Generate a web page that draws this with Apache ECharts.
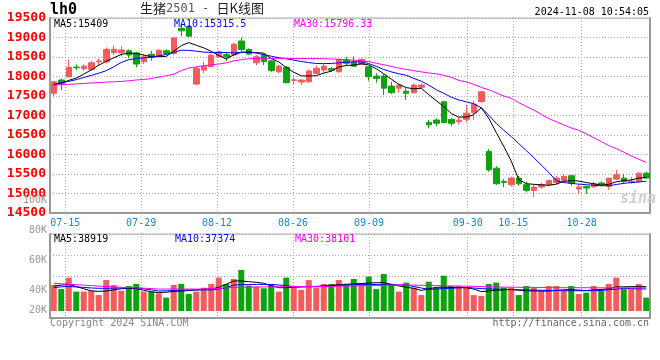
<!DOCTYPE html>
<html><head><meta charset="utf-8">
<script src="https://cdn.jsdelivr.net/npm/echarts@6/dist/echarts.min.js"></script>
<style>html,body{margin:0;padding:0;background:#fff}#c{width:660px;height:360px}</style>
</head><body><div id="c"></div>
<script>
const dates = ['07-11','07-12','07-15','07-16','07-17','07-18','07-19','07-22','07-23','07-24','07-25','07-26','07-29','07-30','07-31',
'08-01','08-02','08-05','08-06','08-07','08-08','08-09','08-12','08-13','08-14','08-15','08-16','08-19','08-20','08-21','08-22','08-23','08-26','08-27','08-28','08-29','08-30',
'09-02','09-03','09-04','09-05','09-06','09-09','09-10','09-11','09-12','09-13','09-18','09-19','09-20','09-23','09-24','09-25','09-26','09-27','09-30',
'10-08','10-09','10-10','10-11','10-14','10-15','10-16','10-17','10-18','10-21','10-22','10-23','10-24','10-25','10-28','10-29','10-30','10-31',
'11-01','11-04','11-05','11-06','11-07','11-08'];
const tickDates = ['07-15','07-29','08-12','08-26','09-09','09-30','10-15','10-28'];

const openP = [17570,17910,17990,18240,18200,18180,18380,18380,18610,18610,
18660,18605,18380,18570,18520,18660,18590,19230,19275,17805,
18165,18250,18505,18560,18550,18910,18690,18350,18545,18400,
18120,18230,17900,17860,17865,18080,18165,18200,18120,18420,
18375,18310,18250,18010,18010,17755,17700,17625,17585,17725,
16820,16885,17350,16900,16845,16900,17070,17355,16075,15650,
15310,15225,15395,15225,15080,15165,15225,15280,15335,15455,
15115,15180,15170,15270,15180,15370,15395,15290,15310,15520];
const closeP = [17865,17825,18235,18225,18265,18350,18400,18695,18700,18680,
18550,18320,18505,18490,18675,18590,18990,19170,19035,18210,
18265,18548,18630,18505,18830,18695,18575,18505,18380,18150,
18265,17840,17915,17910,18140,18210,18265,18160,18440,18340,
18265,18440,17995,17950,17700,17585,17780,17570,17780,17780,
16760,16800,16820,16800,16880,17060,17290,17610,15605,15250,
15285,15395,15250,15080,15165,15225,15335,15395,15435,15265,
15165,15140,15250,15230,15395,15480,15310,15320,15520,15400];
const lowP = [17500,17650,17990,18165,18147,18147,18290,18335,18548,18522,
18463,18233,18318,18402,18505,18548,18548,19033,19016,17780,
18080,18250,18480,18400,18520,18630,18550,18290,18290,18120,
18080,17840,17800,17780,17840,18050,18100,18120,18100,18290,
18250,18290,17890,17840,17525,17550,17585,17400,17560,17700,
16670,16720,16800,16740,16770,16830,16890,17340,15560,15220,
15165,15180,15200,15030,14910,15120,15200,15230,15300,15200,
14990,14990,15140,15180,15096,15350,15249,15250,15290,15380];
const highP = [17890,17950,18440,18310,18310,18400,18460,18745,18800,18778,
18694,18633,18573,18658,18694,18694,18990,19358,19315,18250,
18377,18591,18660,18610,18860,19000,18720,18550,18590,18430,
18300,18270,18010,17930,18180,18280,18330,18240,18450,18505,
18520,18460,18260,18080,18060,17865,17810,17720,17820,17820,
16890,16930,17380,16930,16950,17270,17380,17610,16140,15700,
15370,15430,15450,15300,15220,15280,15350,15450,15500,15480,
15240,15200,15300,15310,15400,15607,15505,15420,15540,15560];

const ma5 = [17780,17830,17900,17960,18060,18170,18290,18390,18480,18565,
18600,18590,18550,18510,18508,18516,18650,18790,18870,18800,
18734,18646,18538,18450,18556,18620,18620,18615,18597,18461,
18375,18228,18110,18016,18014,18020,18088,18137,18243,18283,
18294,18329,18296,18198,18070,17934,17802,17717,17683,17699,
17534,17380,17230,17050,16960,16960,17020,17200,16930,16563,
16208,15829,15357,15252,15235,15223,15211,15240,15311,15331,
15319,15280,15251,15210,15236,15299,15333,15347,15395,15409];
const ma10 = [17806,17840,17875,17920,17975,18030,18085,18150,18250,18360,
18430,18460,18480,18500,18530,18565,18620,18675,18670,18650,
18625,18617,18617,18615,18605,18620,18630,18600,18560,18520,
18480,18455,18420,18385,18355,18335,18330,18335,18350,18365,
18377,18377,18330,18260,18180,18120,18070,18030,17950,17880,
17780,17660,17570,17470,17400,17350,17300,17200,17010,16800,
16620,16460,16280,16100,15920,15730,15540,15330,15282,15260,
15240,15225,15212,15200,15200,15230,15260,15280,15295,15315.5];
const ma30 = [17780,17790,17800,17810,17820,17835,17845,17855,17865,17875,
17890,17910,17925,17945,17985,18020,18060,18150,18220,18245,
18280,18300,18320,18350,18400,18430,18455,18465,18465,18465,
18465,18465,18460,18460,18460,18460,18455,18450,18440,18430,
18420,18400,18380,18340,18300,18260,18215,18180,18150,18120,
18090,18070,18030,17980,17900,17860,17800,17720,17660,17580,
17500,17440,17330,17230,17140,17030,16920,16840,16760,16680,
16620,16530,16430,16330,16230,16150,16060,15960,15880,15796.33];

const volume = [40000,37300,44900,35600,35600,36200,33300,43300,40000,36200,
39300,40700,35600,35600,34400,31500,40000,40700,34000,35600,
38200,40700,44900,40700,44000,50000,39600,38900,37800,40000,
35600,44900,39300,36700,43300,38200,40700,40700,43300,40700,
44000,40700,45600,37300,47300,40700,35600,41600,38200,33300,
42200,38200,46200,39300,39300,38200,33300,32700,40700,41600,
38200,38200,33300,39300,38200,36200,39300,39300,36200,39300,
34000,34900,39300,36200,40700,44900,37300,37300,40700,31500];
const volMa5 = [39300,39900,40400,39000,37500,36100,35800,36000,36800,37500,
37800,37500,36500,35500,34900,35200,35700,36000,36300,36700,
37200,37300,38500,40500,42700,42700,42200,41800,41100,39500,
38200,38200,38500,38700,38900,38900,39300,39800,40200,40500,
40700,41000,41300,41500,41600,40500,39400,38500,37800,36400,
37500,38400,38600,38300,38200,38200,37300,35600,36000,36500,
36800,37000,36500,36200,36000,36000,36000,36400,36800,36900,
36600,36300,36700,37000,37500,38700,38800,38900,38900,38919];
const volMa10 = [38200,38800,39000,38700,38400,38000,37800,37800,37900,38000,
38100,38200,37500,36800,36000,36100,36300,36600,36700,36700,
36700,36700,37300,38200,40000,40200,40300,40400,40400,40400,
40000,39600,38900,38900,39000,39100,39300,39500,39800,40000,
40200,40400,40400,40300,40200,40100,40000,40000,39000,38000,
37100,37300,37600,37900,38200,38400,38000,37600,37300,37300,
37100,37000,36800,36700,36600,36500,36400,36300,36200,36200,
36200,36200,36200,36400,36800,37200,37800,37600,37400,37374];
const volMa30 = [41100,40800,40500,40200,39900,39600,39300,39000,38700,38500,
38300,38100,37900,37600,37300,37300,37300,37300,37300,37300,
37300,37500,37800,38100,38400,38500,38600,38700,38700,38800,
38800,38900,38900,38900,38900,38900,38900,39000,39200,39300,
39400,39500,39600,39700,39800,39900,40000,40000,39900,39800,
39700,39600,39500,39400,39300,39200,39100,39000,38800,38700,
38600,38500,38500,38400,38400,38300,38300,38200,38200,38200,
38200,38200,38100,38100,38100,38100,38100,38100,38100,38101];

const priceMin = 14500, priceMax = 19500, priceStep = 500;
const volTickMin = 20000, volTickMax = 100000, volTickStep = 20000;
const volBarMin = 22667, volBarMax = 74000;

const legendMain = ['MA5:15409', 'MA10:15315.5', 'MA30:15796.33'];
const legendVol = ['MA5:38919', 'MA10:37374', 'MA30:38101'];
const titleCode = 'lh0';
const timeText = '2024-11-08 10:54:05';

const RED = '#f65b5b', GREEN = '#0ca40c';
const MONO = '"DejaVu Sans Mono", monospace';
const gridLine = {show: true, lineStyle: {color: '#aaa', width: 1, type: [1, 2]}};
const frameLine = {show: true, lineStyle: {color: '#999', width: 2}};
const isTick = (idx, val) => tickDates.indexOf(val) >= 0;

const candleData = dates.map((d, i) => [openP[i], closeP[i], lowP[i], highP[i]]);
const volData = dates.map((d, i) => ({value: volume[i], itemStyle: {color: closeP[i] >= openP[i] ? RED : GREEN}}));

const chart = echarts.init(document.getElementById('c'));
chart.setOption({
  animation: false,
  backgroundColor: '#fff',
  grid: [
    {left: 50, right: 10, top: 18, height: 195, show: true, borderColor: '#aaa', borderWidth: 1},
    {left: 50, right: 10, top: 234, height: 84, show: true, borderColor: '#aaa', borderWidth: 1},
    {left: 50, right: 10, top: 234, height: 77},
    {left: 50, right: 10, top: 195, height: 120}
  ],
  xAxis: [
    {type: 'category', gridIndex: 0, data: dates, boundaryGap: true, show: false},
    {type: 'category', gridIndex: 0, data: dates, boundaryGap: false, position: 'bottom',
      axisLine: frameLine, axisTick: {show: false},
      axisLabel: {interval: isTick, color: '#1089dc', fontFamily: MONO, fontSize: 10, margin: 5},
      splitLine: Object.assign({interval: isTick}, gridLine)},
    {type: 'category', gridIndex: 1, data: dates, boundaryGap: false, position: 'bottom',
      axisLine: frameLine, axisTick: {show: false}, axisLabel: {show: false},
      splitLine: Object.assign({interval: isTick}, gridLine)},
    {type: 'category', gridIndex: 2, data: dates, boundaryGap: true, show: false},
    {type: 'value', gridIndex: 3, show: false}
  ],
  yAxis: [
    {type: 'value', gridIndex: 0, min: priceMin, max: priceMax, interval: priceStep,
      axisLine: frameLine, axisTick: {show: false},
      axisLabel: {color: '#ff0000', fontFamily: MONO, fontWeight: 'bold', fontSize: 13, margin: 4,
        formatter: v => String(v)},
      splitLine: gridLine},
    {type: 'value', gridIndex: 0, position: 'right', min: priceMin, max: priceMax,
      axisLine: frameLine, axisTick: {show: false}, axisLabel: {show: false}, splitLine: {show: false}},
    {type: 'value', gridIndex: 1, min: 0, max: 4, interval: 1,
      axisLine: frameLine, axisTick: {show: false}, axisLabel: {show: false}, splitLine: gridLine},
    {type: 'value', gridIndex: 1, position: 'right', min: 0, max: 4,
      axisLine: frameLine, axisTick: {show: false}, axisLabel: {show: false}, splitLine: {show: false}},
    {type: 'value', gridIndex: 2, min: volBarMin, max: volBarMax, show: false},
    {type: 'value', gridIndex: 3, min: volTickMin, max: volTickMax, interval: volTickStep,
      axisLine: {show: false}, axisTick: {show: false}, splitLine: {show: false},
      axisLabel: {color: '#999', fontFamily: MONO, fontSize: 10, margin: 3,
        verticalAlign: 'top', verticalAlignMinLabel: 'bottom',
        formatter: v => (v / 1000) + 'K'}}
  ],
  series: [
    {type: 'candlestick', xAxisIndex: 0, yAxisIndex: 0, data: candleData, barWidth: 6,
      itemStyle: {color: RED, color0: GREEN, borderColor: RED, borderColor0: GREEN, borderWidth: 1}},
    {type: 'line', xAxisIndex: 0, yAxisIndex: 0, data: ma5, showSymbol: false, z: 5,
      lineStyle: {color: '#000', width: 1}},
    {type: 'line', xAxisIndex: 0, yAxisIndex: 0, data: ma10, showSymbol: false, z: 5,
      lineStyle: {color: '#0000ff', width: 1}},
    {type: 'line', xAxisIndex: 0, yAxisIndex: 0, data: ma30, showSymbol: false, z: 5,
      lineStyle: {color: '#ff00ff', width: 1}},
    {type: 'bar', xAxisIndex: 3, yAxisIndex: 4, data: volData, barWidth: 6},
    {type: 'line', xAxisIndex: 3, yAxisIndex: 4, data: volMa5, showSymbol: false, z: 5,
      lineStyle: {color: '#000', width: 1}},
    {type: 'line', xAxisIndex: 3, yAxisIndex: 4, data: volMa10, showSymbol: false, z: 5,
      lineStyle: {color: '#0000ff', width: 1}},
    {type: 'line', xAxisIndex: 3, yAxisIndex: 4, data: volMa30, showSymbol: false, z: 5,
      lineStyle: {color: '#ff00ff', width: 1}}
  ],
  graphic: [
    {type: 'text', left: 50, top: 3, z: 10, style: {text: titleCode, font: 'bold 15px ' + MONO, fill: '#000'}},
    {type: 'text', left: 140, top: 2, z: 10, style: {
      text: '{a|生猪}{b|2501}{b| - }{a|日K线图}',
      rich: {a: {fontFamily: '"Noto Sans CJK SC"', fontSize: 13, fill: '#222'},
             b: {fontFamily: MONO, fontSize: 12, fill: '#555'}}}},
    {type: 'text', right: 11, top: 7, z: 10, style: {text: timeText, font: '10px ' + MONO, fill: '#000'}},
    {type: 'text', left: 54, top: 19, z: 10, style: {text: legendMain[0], font: '10px ' + MONO, fill: '#000'}},
    {type: 'text', left: 174, top: 19, z: 10, style: {text: legendMain[1], font: '10px ' + MONO, fill: '#0000ff'}},
    {type: 'text', left: 294, top: 19, z: 10, style: {text: legendMain[2], font: '10px ' + MONO, fill: '#ff00ff'}},
    {type: 'text', left: 54, top: 234, z: 10, style: {text: legendVol[0], font: '10px ' + MONO, fill: '#000'}},
    {type: 'text', left: 175, top: 234, z: 10, style: {text: legendVol[1], font: '10px ' + MONO, fill: '#0000ff'}},
    {type: 'text', left: 295, top: 234, z: 10, style: {text: legendVol[2], font: '10px ' + MONO, fill: '#ff00ff'}},
    {type: 'text', left: 620, top: 192, z: 1, style: {text: 'sina', font: 'italic bold 15px ' + MONO, fill: '#cfcfcf'}},
    {type: 'text', left: 50, top: 318, z: 10, style: {text: 'Copyright 2024 SINA.COM', font: '10px ' + MONO, fill: '#888'}},
    {type: 'text', right: 11, top: 318, z: 10, style: {text: 'http://finance.sina.com.cn', font: '10px ' + MONO, fill: '#666'}}
  ]
});
</script>
</body></html>
